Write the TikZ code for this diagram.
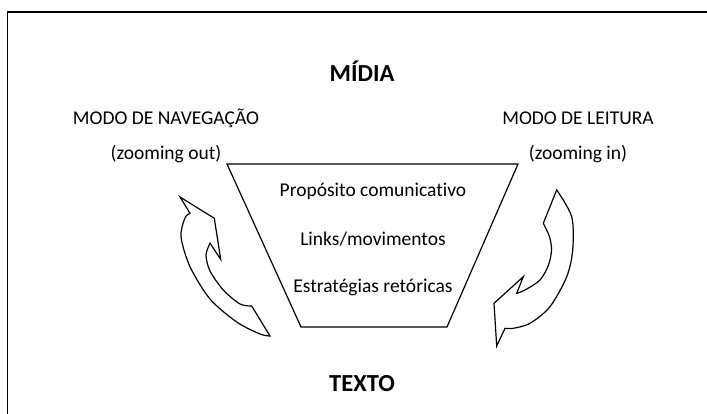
\documentclass[tikz,border=0pt]{standalone}
\usepackage{fontspec}
\setmainfont{Carlito}[Ligatures = NoCommon]
\usetikzlibrary{positioning}

\begin{document}
\begin{tikzpicture}[x = 1pt, y = -1pt,
        lbl/.style = {anchor = base, inner sep = 0pt, font = \fontsize{19.5}{21}\selectfont},
        ttl/.style = {anchor = base, inner sep = 0pt, font = \fontsize{24.5}{26}\selectfont\bfseries},
        arw/.style = {draw, line width = 1.2pt, line join = miter}]
        \useasboundingbox (0, 0) rectangle (707, 414);
        \clip (0, 0) rectangle (707, 414);
        % Frame
        \draw [line width = 1.5pt] (7.5, 12) rectangle (730, 440);
        % Nodes
        \node [ttl] (midia) at (362, 82) {MÍDIA};
        \node [ttl] (texto) at (362, 391) {TEXTO};
        \node [lbl] (nav) at (166, 125) {MODO DE NAVEGAÇÃO};
        \node [lbl] (out) at (166, 160) {(zooming out)};
        \node [lbl] (leit) at (578, 125) {MODO DE LEITURA};
        \node [lbl] (in) at (578, 160) {(zooming in)};
        % Funnel
        \draw [line width = 1.2pt] (227, 164) -- (518, 164) -- (447, 327) -- (301, 327) -- cycle;
        \node [lbl] (prop) at (373, 197) {Propósito comunicativo};
        \node [lbl] (links) at (373, 246) {Links/movimentos};
        \node [lbl] (estr) at (373, 292.5) {Estratégias retóricas};
        % Left arrow (up)
        \draw [arw] (180, 197) -- (214.3, 218.3) -- (220.7, 259.3) -- (210, 243.3)
            -- plot [smooth] coordinates {(210, 243.3) (206, 255) (210, 271) (223.3, 290) (240, 304) (251.7, 306)}
            -- (270, 336)
            -- plot [smooth] coordinates {(270, 336) (260, 334) (236.7, 322) (210, 299) (190, 266.7) (181, 236.7) (185, 218) (190, 213.3)}
            -- cycle;
        % Right arrow (down)
        \draw [arw] (556.7, 190)
            -- plot [smooth] coordinates {(556.7, 190) (571.7, 216.7) (572.7, 250) (566.7, 276.7) (550, 306.7) (530, 323.3) (513.3, 328.3) (505, 328.3)}
            -- (496.7, 346) -- (494, 303.3) -- (523.3, 276.7) -- (516.7, 293.3)
            -- plot [smooth] coordinates {(516.7, 293.3) (525, 290) (540, 280) (548.5, 265) (551.5, 250) (549.5, 236.7) (543.3, 223.3)}
            -- cycle;
\end{tikzpicture}
\end{document}
